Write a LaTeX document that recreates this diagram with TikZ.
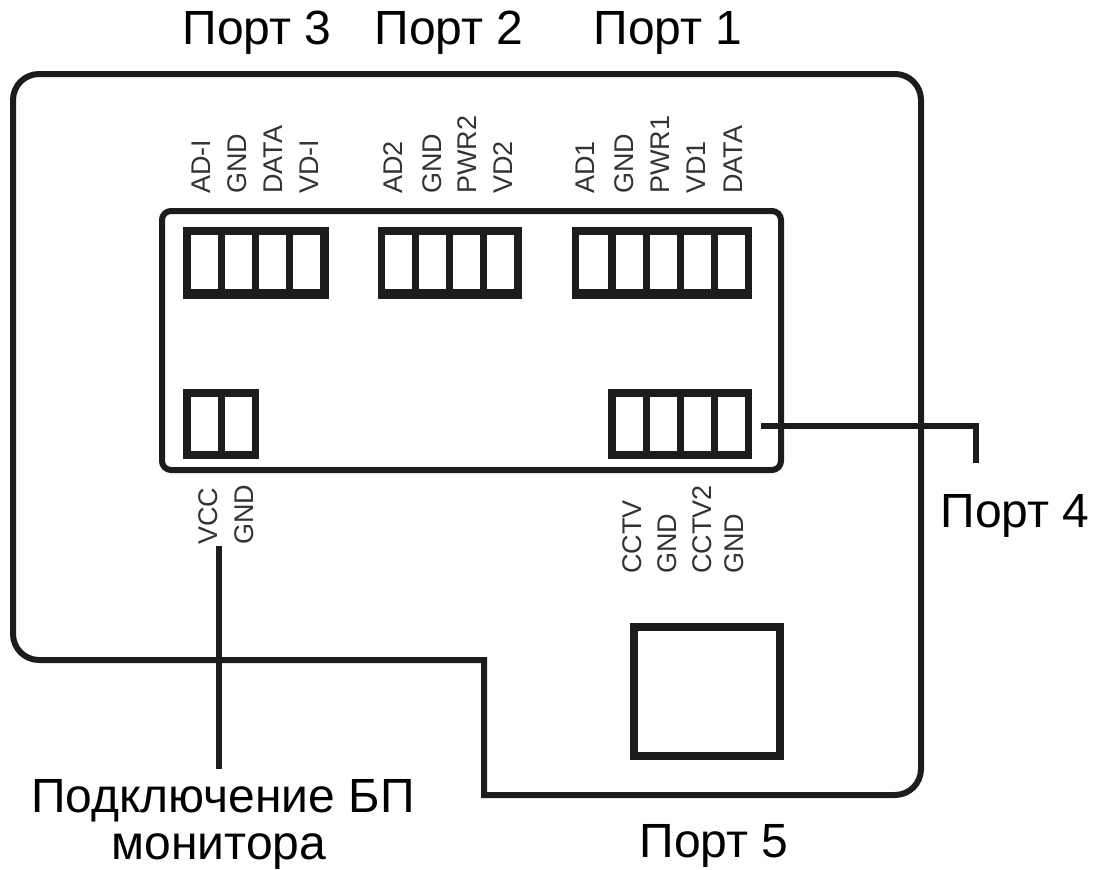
\documentclass[tikz,border=0pt]{standalone}
\usepackage{fontspec}
\setmainfont{Liberation Sans}
\definecolor{ink}{HTML}{1C1C1A}
\definecolor{lbl}{HTML}{333333}
\tikzset{
  x=1pt,y=-1pt,
  outline/.style={draw=ink,line width=6pt},
  blk/.style={fill=ink,draw=none,inner sep=0pt,outer sep=0pt,anchor=north west},
  cell/.style={fill=white,draw=none,inner sep=0pt,outer sep=0pt,anchor=north west},
  pin/.style={rotate=90,anchor=base west,text=lbl,font=\fontsize{27}{27}\selectfont,inner sep=0pt},
  captxt/.style={text=black,font=\fontsize{48}{48}\selectfont,inner sep=0pt,align=center,anchor=base},
  wire/.style={draw=ink,line width=5.5pt},
}
\newcommand{\block}[6]{% name,x,y,w,h,cell xs
  \node[blk,minimum width=#4pt,minimum height=#5pt] (#1) at (#2,#3) {};
  \foreach \cx/\cw in {#6} {\node[cell,minimum width=\cw pt,minimum height=54pt] at (\cx,#3+8) {};}
}
\begin{document}
\begin{tikzpicture}
\useasboundingbox (0,0) rectangle (1096,870);
\fill[white] (0,0) rectangle (1096,870);
% outer board
\draw[outline] (484,660) [rounded corners=26pt] -- (13,660) -- (13,74) -- (921,74) -- (921,795) -- (600,795) [sharp corners] -- (484,795) -- cycle;
% inner panel
\draw[outline,rounded corners=9pt] (162,211) rectangle (781,470);
% connectors
\block{pthree}{183}{227}{146}{72}{191/27,225/27,259/27,293/27}
\block{ptwo}{378}{227}{144}{72}{385/27,419/27,453/27,487/27}
\block{pone}{572}{227}{180}{72}{579/29,616/27,650/27,684/27,718/27}
\block{pwr}{183}{389}{76}{70}{191/27,225/27}
\block{pfour}{608}{389}{144}{70}{616/27,650/27,684/27,718/27}
% port 5 square
\node[draw=ink,line width=8pt,inner sep=0pt,outer sep=0pt,minimum width=146pt,minimum height=129pt,anchor=north west] (pfive) at (634,627) {};
% pin labels
\node[pin] (a1) at (210,194) {AD-I};
\node[pin] (a2) at (246,194) {GND};
\node[pin] (a3) at (282,194) {DATA};
\node[pin] (a4) at (318,194) {VD-I};
\node[pin] (b1) at (402,194) {AD2};
\node[pin] (b2) at (441,194) {GND};
\node[pin] (b3) at (476,194) {PWR2};
\node[pin] (b4) at (512,194) {VD2};
\node[pin] (c1) at (594,194) {AD1};
\node[pin] (c2) at (633,194) {GND};
\node[pin] (c3) at (669,194) {PWR1};
\node[pin] (c4) at (705,194) {VD1};
\node[pin] (c5) at (742,194) {DATA};
\node[pin] (d1) at (217,545) {VCC};
\node[pin] (d2) at (253,545) {GND};
\node[pin] (e1) at (641,574) {CCTV};
\node[pin] (e2) at (676,574) {GND};
\node[pin] (e3) at (711,574) {CCTV2};
\node[pin] (e4) at (743,574) {GND};
% captions
\node[captxt] (l3) at (257,45) {Порт 3};
\node[captxt] (l2) at (449,45) {Порт 2};
\node[captxt] (l1) at (668,45) {Порт 1};
\node[captxt] (l4) at (1015,527) {Порт 4};
\node[captxt] (l5) at (714,857) {Порт 5};
\node[captxt] (lp) at (223,812) {Подключение БП};
\node[captxt] (lq) at (219,859) {монитора};
% leaders
\coordinate (w4a) at (761,426);
\coordinate (w4b) at (976,426);
\coordinate (w4c) at (976,463);
\draw[wire] (w4a) -- (w4b) -- (w4c);
\coordinate (wpa) at (219,546);
\coordinate (wpb) at (219,769);
\draw[wire] (wpa) -- (wpb);
\end{tikzpicture}
\end{document}
